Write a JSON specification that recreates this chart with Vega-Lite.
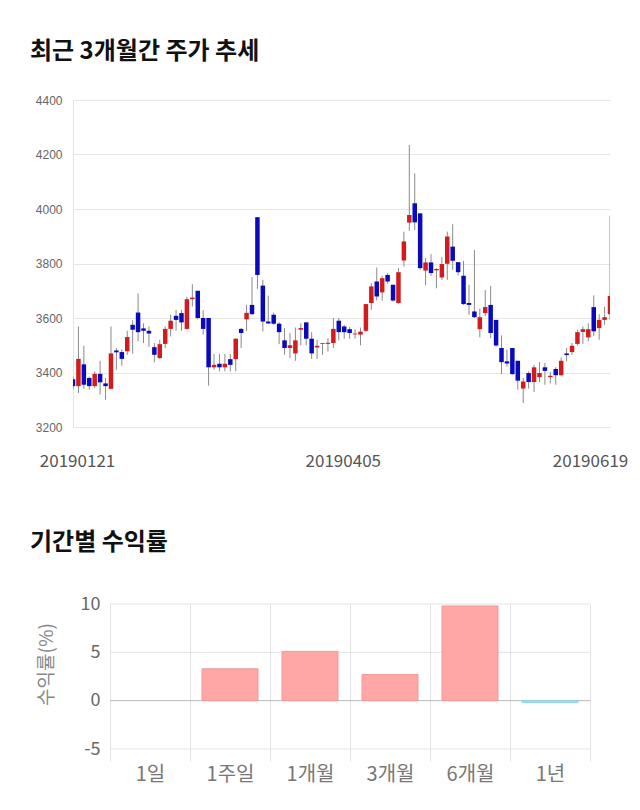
{
  "$schema": "https://vega.github.io/schema/vega-lite/v6.json",
  "background": "white",
  "padding": {"left": 30, "top": 40, "right": 0, "bottom": 20},
  "columns": 1,
  "align": "none",
  "spacing": 62,
  "config": {"view": {"stroke": null}},
  "concat": [
    {
      "width": 537,
      "height": 327,
      "title": {"text": "최근 3개월간 주가 추세", "anchor": "start", "frame": "group", "dx": -43, "offset": 30, "fontSize": 24, "font": "Noto Sans CJK KR", "fontWeight": "bold", "color": "#111"},
      "data": {"values": [
        {"d":"20190121","o":3375,"c":3350,"h":3385,"l":3340},
        {"d":"20190122","o":3350,"c":3450,"h":3569,"l":3325},
        {"d":"20190123","o":3430,"c":3355,"h":3498,"l":3340},
        {"d":"20190124","o":3380,"c":3350,"h":3385,"l":3337},
        {"d":"20190125","o":3350,"c":3395,"h":3404,"l":3343},
        {"d":"20190128","o":3395,"c":3364,"h":3443,"l":3319},
        {"d":"20190129","o":3360,"c":3350,"h":3380,"l":3300},
        {"d":"20190130","o":3340,"c":3470,"h":3569,"l":3339},
        {"d":"20190131","o":3481,"c":3474,"h":3490,"l":3410},
        {"d":"20190207","o":3475,"c":3450,"h":3484,"l":3425},
        {"d":"20190208","o":3478,"c":3530,"h":3553,"l":3465},
        {"d":"20190211","o":3575,"c":3557,"h":3592,"l":3469},
        {"d":"20190212","o":3620,"c":3548,"h":3690,"l":3514},
        {"d":"20190213","o":3562,"c":3553,"h":3580,"l":3508},
        {"d":"20190214","o":3553,"c":3543,"h":3569,"l":3494},
        {"d":"20190215","o":3493,"c":3465,"h":3508,"l":3437},
        {"d":"20190218","o":3453,"c":3504,"h":3520,"l":3450},
        {"d":"20190219","o":3505,"c":3560,"h":3569,"l":3490},
        {"d":"20190220","o":3560,"c":3590,"h":3612,"l":3532},
        {"d":"20190221","o":3608,"c":3593,"h":3630,"l":3553},
        {"d":"20190222","o":3618,"c":3584,"h":3630,"l":3553},
        {"d":"20190225","o":3560,"c":3669,"h":3678,"l":3557},
        {"d":"20190226","o":3669,"c":3675,"h":3724,"l":3642},
        {"d":"20190227","o":3700,"c":3600,"h":3700,"l":3595},
        {"d":"20190228","o":3600,"c":3560,"h":3629,"l":3539},
        {"d":"20190304","o":3600,"c":3419,"h":3600,"l":3352},
        {"d":"20190305","o":3419,"c":3428,"h":3468,"l":3410},
        {"d":"20190306","o":3432,"c":3419,"h":3468,"l":3404},
        {"d":"20190307","o":3419,"c":3432,"h":3468,"l":3404},
        {"d":"20190308","o":3449,"c":3428,"h":3468,"l":3404},
        {"d":"20190311","o":3449,"c":3524,"h":3526,"l":3404},
        {"d":"20190312","o":3560,"c":3545,"h":3563,"l":3490},
        {"d":"20190313","o":3595,"c":3619,"h":3648,"l":3553},
        {"d":"20190314","o":3648,"c":3614,"h":3750,"l":3612},
        {"d":"20190315","o":3970,"c":3758,"h":3970,"l":3707},
        {"d":"20190318","o":3719,"c":3587,"h":3740,"l":3551},
        {"d":"20190319","o":3587,"c":3580,"h":3682,"l":3578},
        {"d":"20190320","o":3612,"c":3579,"h":3620,"l":3575},
        {"d":"20190321","o":3579,"c":3548,"h":3585,"l":3504},
        {"d":"20190322","o":3518,"c":3490,"h":3563,"l":3465},
        {"d":"20190325","o":3490,"c":3500,"h":3545,"l":3453},
        {"d":"20190326","o":3470,"c":3518,"h":3565,"l":3443},
        {"d":"20190327","o":3557,"c":3563,"h":3581,"l":3500},
        {"d":"20190328","o":3584,"c":3524,"h":3584,"l":3500},
        {"d":"20190329","o":3524,"c":3470,"h":3548,"l":3450},
        {"d":"20190401","o":3492,"c":3498,"h":3520,"l":3450},
        {"d":"20190402","o":3505,"c":3508,"h":3508,"l":3465},
        {"d":"20190403","o":3505,"c":3509,"h":3526,"l":3477},
        {"d":"20190404","o":3508,"c":3560,"h":3600,"l":3490},
        {"d":"20190405","o":3590,"c":3548,"h":3600,"l":3518},
        {"d":"20190408","o":3569,"c":3548,"h":3575,"l":3524},
        {"d":"20190409","o":3559,"c":3545,"h":3567,"l":3524},
        {"d":"20190410","o":3540,"c":3543,"h":3559,"l":3524},
        {"d":"20190411","o":3539,"c":3550,"h":3565,"l":3500},
        {"d":"20190412","o":3553,"c":3651,"h":3651,"l":3549},
        {"d":"20190415","o":3655,"c":3716,"h":3728,"l":3630},
        {"d":"20190416","o":3734,"c":3679,"h":3785,"l":3664},
        {"d":"20190417","o":3694,"c":3746,"h":3755,"l":3664},
        {"d":"20190418","o":3758,"c":3734,"h":3765,"l":3725},
        {"d":"20190419","o":3722,"c":3664,"h":3722,"l":3660},
        {"d":"20190422","o":3655,"c":3768,"h":3783,"l":3652},
        {"d":"20190423","o":3811,"c":3881,"h":3917,"l":3789},
        {"d":"20190424","o":3950,"c":3978,"h":4235,"l":3920},
        {"d":"20190425","o":4021,"c":3951,"h":4131,"l":3923},
        {"d":"20190426","o":3984,"c":3783,"h":3984,"l":3777},
        {"d":"20190429","o":3774,"c":3804,"h":3820,"l":3720},
        {"d":"20190430","o":3804,"c":3765,"h":3834,"l":3755},
        {"d":"20190502","o":3775,"c":3780,"h":3783,"l":3709},
        {"d":"20190503","o":3749,"c":3798,"h":3823,"l":3740},
        {"d":"20190507","o":3799,"c":3899,"h":3917,"l":3740},
        {"d":"20190508","o":3862,"c":3810,"h":3944,"l":3777},
        {"d":"20190509","o":3805,"c":3768,"h":3805,"l":3756},
        {"d":"20190510","o":3755,"c":3651,"h":3810,"l":3648},
        {"d":"20190513","o":3655,"c":3648,"h":3722,"l":3612},
        {"d":"20190514","o":3624,"c":3603,"h":3850,"l":3600},
        {"d":"20190515","o":3559,"c":3603,"h":3634,"l":3529},
        {"d":"20190516","o":3618,"c":3640,"h":3703,"l":3606},
        {"d":"20190517","o":3648,"c":3545,"h":3718,"l":3526},
        {"d":"20190520","o":3593,"c":3499,"h":3593,"l":3495},
        {"d":"20190521","o":3490,"c":3438,"h":3536,"l":3394},
        {"d":"20190522","o":3441,"c":3433,"h":3484,"l":3422},
        {"d":"20190523","o":3490,"c":3394,"h":3490,"l":3392},
        {"d":"20190524","o":3443,"c":3370,"h":3443,"l":3337},
        {"d":"20190527","o":3341,"c":3367,"h":3380,"l":3288},
        {"d":"20190528","o":3398,"c":3365,"h":3404,"l":3341},
        {"d":"20190529","o":3365,"c":3419,"h":3428,"l":3328},
        {"d":"20190530","o":3383,"c":3398,"h":3438,"l":3364},
        {"d":"20190531","o":3419,"c":3406,"h":3435,"l":3355},
        {"d":"20190603","o":3383,"c":3388,"h":3402,"l":3360},
        {"d":"20190604","o":3413,"c":3390,"h":3419,"l":3355},
        {"d":"20190605","o":3390,"c":3443,"h":3455,"l":3386},
        {"d":"20190607","o":3470,"c":3464,"h":3490,"l":3441},
        {"d":"20190610","o":3475,"c":3498,"h":3508,"l":3465},
        {"d":"20190611","o":3505,"c":3548,"h":3557,"l":3499},
        {"d":"20190612","o":3549,"c":3559,"h":3569,"l":3505},
        {"d":"20190613","o":3529,"c":3559,"h":3580,"l":3514},
        {"d":"20190614","o":3640,"c":3551,"h":3683,"l":3533},
        {"d":"20190617","o":3563,"c":3593,"h":3614,"l":3520},
        {"d":"20190618","o":3593,"c":3603,"h":3642,"l":3575},
        {"d":"20190619","o":3614,"c":3681,"h":3975,"l":3593}
      ]},
      "encoding": {
        "x": {"field": "d", "type": "ordinal", "sort": null,
          "scale": {"type": "point", "padding": 0},
          "axis": {"title": null, "values": ["20190121", "20190405", "20190619"], "labelAngle": 0, "ticks": false, "domain": false, "grid": false,
            "labelFont": "Noto Sans CJK KR", "labelFontSize": 17, "labelColor": "#555", "labelPadding": 26,
            "labelOffset": {"condition": {"test": "datum.value == '20190619'", "value": -20}, "value": 4}}}
      },
      "layer": [
        {"mark": {"type": "rule", "color": "#8a8a8a", "strokeWidth": 1, "clip": true},
         "encoding": {
           "y": {"field": "l", "type": "quantitative", "scale": {"domain": [3200, 4400], "nice": false, "zero": false},
             "axis": {"title": null, "values": [3200, 3400, 3600, 3800, 4000, 4200, 4400], "format": "d", "ticks": false, "domain": true, "domainColor": "#e3e3e3",
               "gridColor": "#e6e6e6", "labelFont": "Liberation Sans", "labelFontSize": 12, "labelColor": "#666", "labelPadding": 11}},
           "y2": {"field": "h"}}},
        {"mark": {"type": "bar", "size": 4.5, "clip": true},
         "encoding": {
           "y": {"field": "o", "type": "quantitative"},
           "y2": {"field": "c"},
           "color": {"condition": {"test": "datum.c >= datum.o", "value": "#d01c1c"}, "value": "#0a0abd"}}}
      ]
    },
    {
      "width": 517,
      "height": 145,
      "title": {"text": "기간별 수익률", "anchor": "start", "frame": "group", "dx": -43, "offset": 40, "fontSize": 24, "font": "Noto Sans CJK KR", "fontWeight": "bold", "color": "#111"},
      "encoding": {
        "x": {"field": "p", "type": "nominal",
          "scale": {"domain": ["1일", "1주일", "1개월", "3개월", "6개월", "1년"], "paddingInner": 0, "paddingOuter": 0.23125, "align": 1},
          "axis": {"title": null, "labelAngle": 0, "tickBand": "extent", "grid": true, "gridColor": "#e3e3e3", "tickSize": 12, "tickColor": "#e3e3e3",
            "domain": false, "labelFont": "Noto Sans CJK KR", "labelFontSize": 20, "labelColor": "#777", "labelPadding": 3}}
      },
      "layer": [
        {
          "data": {"values": [{"g": -5}, {"g": 0}, {"g": 5}, {"g": 10}]},
          "mark": {"type": "rule", "strokeWidth": 1},
          "encoding": {
            "x": {"datum": "1일", "type": "nominal", "bandPosition": 0},
            "x2": {"datum": "1년", "bandPosition": 1},
            "y": {"field": "g", "type": "quantitative"},
            "color": {"condition": {"test": "datum.g === 0", "value": "#b8b8b8"}, "value": "#e3e3e3"}
          }
        },
        {
          "data": {"values": [
            {"p": "1일", "v": 0},
            {"p": "1주일", "v": 3.3},
            {"p": "1개월", "v": 5.1},
            {"p": "3개월", "v": 2.7},
            {"p": "6개월", "v": 9.8},
            {"p": "1년", "v": -0.2}
          ]},
          "mark": {"type": "bar", "width": {"band": 0.7}, "strokeWidth": 1},
          "encoding": {
            "y": {"field": "v", "type": "quantitative", "scale": {"domain": [-5, 10], "nice": false},
              "axis": {"values": [-5, 0, 5, 10], "labelExpr": "'' + datum.value", "title": "수익률(%)", "titleFont": "Noto Sans CJK KR", "titleFontSize": 19, "titleFontWeight": "normal", "titleColor": "#888", "titlePadding": 24, "titleY": 60,
                "offset": -37, "grid": false, "labelFont": "Noto Sans CJK KR", "labelFontSize": 18, "labelColor": "#666", "labelPadding": 10, "ticks": false, "domain": false}},
            "color": {"condition": {"test": "datum.v < 0", "value": "#a3dfea"}, "value": "#ffa6a6"},
            "stroke": {"condition": {"test": "datum.v < 0", "value": "#8fd4e2"}, "value": "#f09a9a"},
            "strokeOpacity": {"condition": {"test": "datum.v === 0", "value": 0}, "value": 1}
          }
        }
      ]
    }
  ]
}
